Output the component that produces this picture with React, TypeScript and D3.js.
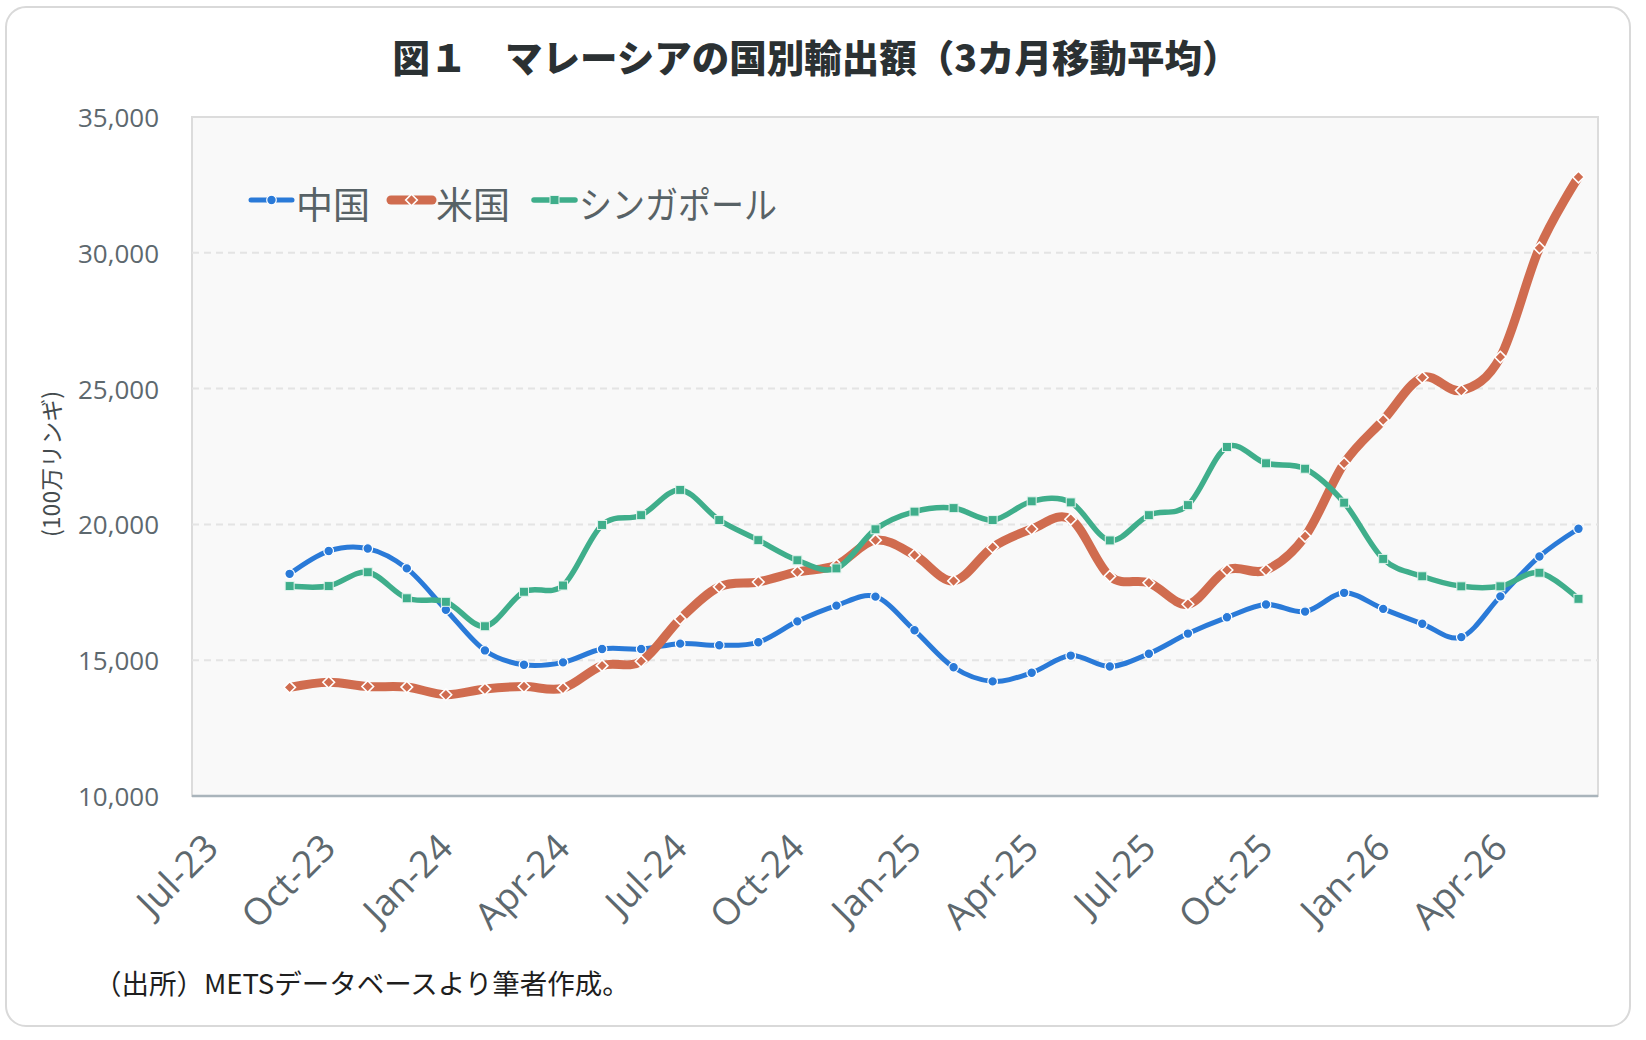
import React from "react";
import * as d3 from "d3";

const axisMonths = [
  "Jul-23", "Aug-23", "Sep-23", "Oct-23", "Nov-23", "Dec-23",
  "Jan-24", "Feb-24", "Mar-24", "Apr-24", "May-24", "Jun-24",
  "Jul-24", "Aug-24", "Sep-24", "Oct-24", "Nov-24", "Dec-24",
  "Jan-25", "Feb-25", "Mar-25", "Apr-25", "May-25", "Jun-25",
  "Jul-25", "Aug-25", "Sep-25", "Oct-25", "Nov-25", "Dec-25",
  "Jan-26", "Feb-26", "Mar-26", "Apr-26", "May-26", "Jun-26",
];

const dataMonths = [
  "Sep-23", "Oct-23", "Nov-23", "Dec-23",
  "Jan-24", "Feb-24", "Mar-24", "Apr-24", "May-24", "Jun-24",
  "Jul-24", "Aug-24", "Sep-24", "Oct-24", "Nov-24", "Dec-24",
  "Jan-25", "Feb-25", "Mar-25", "Apr-25", "May-25", "Jun-25",
  "Jul-25", "Aug-25", "Sep-25", "Oct-25", "Nov-25", "Dec-25",
  "Jan-26", "Feb-26", "Mar-26", "Apr-26", "May-26", "Jun-26",
];

const tickLabels = [
  "Jul-23", "Oct-23", "Jan-24", "Apr-24", "Jul-24", "Oct-24",
  "Jan-25", "Apr-25", "Jul-25", "Oct-25", "Jan-26", "Apr-26",
];

const china = [
  18180, 19020, 19110, 18380,
  16860, 15360, 14830, 14920, 15410, 15410, 15610, 15550, 15660, 16430, 17010, 17340,
  16100, 14740, 14220, 14540, 15170, 14770, 15240, 15980, 16580, 17050, 16790, 17480,
  16890, 16340, 15850, 17350, 18820, 19840,
];

const usa = [
  14000, 14190, 14030, 14010,
  13730, 13940, 14030, 13970, 14800, 14960, 16520, 17700, 17880, 18250, 18500, 19420,
  18870, 17920, 19160, 19830, 20190, 18090, 17850, 17060, 18320, 18320, 19560, 22250,
  23840, 25410, 24930, 26160, 30180, 32790,
];

const singapore = [
  17730, 17730, 18240, 17280,
  17150, 16250, 17520, 17750, 19980, 20340, 21270, 20160, 19420, 18680, 18380, 19820,
  20470, 20600, 20160, 20850, 20810, 19410, 20340, 20710, 22850, 22250, 22050, 20800,
  18730, 18090, 17720, 17720, 18220, 17260,
];

const yTicks = [10000, 15000, 20000, 25000, 30000, 35000];

const titleText = "図１　マレーシアの国別輸出額（3カ月移動平均）";
const yTitle = "(100万リンギ)";
const sourceText = "（出所）METSデータベースより筆者作成。";

type Series = {
  name: string;
  values: number[];
  color: string;
  width: number;
  marker: "circle" | "diamond" | "square";
};

const series: Series[] = [
  { name: "中国", values: china, color: "#2a7ad8", width: 5, marker: "circle" },
  { name: "米国", values: usa, color: "#d06c4f", width: 9, marker: "diamond" },
  { name: "シンガポール", values: singapore, color: "#3fae8b", width: 5.5, marker: "square" },
];

const legendStarts = [249, 389, 532];
const legendTextLengths = [null, null, 198];

const W = 1646;
const H = 1040;
const plot = { left: 192, right: 1598, top: 117, bottom: 796 };

const x = d3
  .scalePoint<string>()
  .domain(axisMonths)
  .range([plot.left, plot.right])
  .padding(0.5);

const y = d3.scaleLinear().domain([10000, 35000]).range([plot.bottom, plot.top]);

const line = d3
  .line<number>()
  .x((_, i) => x(dataMonths[i]) as number)
  .y((d) => y(d))
  .curve(d3.curveCardinal.tension(0));

function Marker({ kind, cx, cy, color }: { kind: string; cx: number; cy: number; color: string }) {
  if (kind === "circle") {
    return <circle cx={cx} cy={cy} r={4.8} fill={color} stroke="#ffffff" strokeWidth={1.2} />;
  }
  if (kind === "diamond") {
    const s = 5.8;
    return (
      <path
        d={`M${cx},${cy - s}L${cx + s},${cy}L${cx},${cy + s}L${cx - s},${cy}Z`}
        fill={color}
        stroke="#ffffff"
        strokeWidth={1.6}
      />
    );
  }
  const s = 9;
  return (
    <rect x={cx - s / 2} y={cy - s / 2} width={s} height={s} fill={color} stroke="#e4f4ee" strokeWidth={1} />
  );
}

export default function App() {
  const fmt = d3.format(",");
  const legendFont = 37;

  return (
    <svg
      width={W}
      height={H}
      style={{ position: "absolute", left: 0, top: 0, background: "#ffffff" }}
      xmlns="http://www.w3.org/2000/svg"
    >
      <rect x={6} y={7} width={1624} height={1019} rx={20} ry={20} fill="#ffffff" stroke="#d9d9d9" strokeWidth={2} />

      <text
        x={816}
        y={72}
        textAnchor="middle"
        fontFamily="'Noto Sans CJK JP', 'Noto Sans', sans-serif"
        fontWeight={900}
        fontSize={37.5}
        fill="#2b3133"
      >
        {titleText}
      </text>

      <rect
        x={plot.left}
        y={plot.top}
        width={plot.right - plot.left}
        height={plot.bottom - plot.top}
        fill="#f9f9f9"
        stroke="#dcdcdc"
        strokeWidth={2}
      />

      {yTicks
        .filter((t) => t > 10000 && t < 35000)
        .map((t) => (
          <line
            key={t}
            x1={plot.left}
            x2={plot.right}
            y1={y(t)}
            y2={y(t)}
            stroke="#e4e4e4"
            strokeWidth={2}
            strokeDasharray="7,5"
          />
        ))}

      <line x1={plot.left} x2={plot.right} y1={plot.bottom} y2={plot.bottom} stroke="#a9b4bb" strokeWidth={2.5} />

      {yTicks.map((t) => (
        <text
          key={t}
          x={159}
          y={y(t)}
          textAnchor="end"
          dominantBaseline="central"
          fontFamily="'Open Sans', sans-serif"
          fontSize={26}
          fill="#5d686e"
        >
          {fmt(t)}
        </text>
      ))}

      <text
        transform={`translate(50,464) rotate(-90)`}
        textAnchor="middle"
        dominantBaseline="central"
        fontFamily="'Noto Sans CJK JP', sans-serif"
        fontSize={23}
        fill="#444b4e"
      >
        {yTitle}
      </text>

      {tickLabels.map((lab) => {
        const px = x(lab) as number;
        return (
          <text
            key={lab}
            transform={`translate(${px + 9},850) rotate(-45)`}
            textAnchor="end"
            fontFamily="'Open Sans', sans-serif"
            fontSize={37}
            fill="#5d686e"
          >
            {lab}
          </text>
        );
      })}

      {series.map((s) => (
        <g key={s.name}>
          <path
            d={line(s.values) || ""}
            fill="none"
            stroke={s.color}
            strokeWidth={s.width}
            strokeLinejoin="round"
            strokeLinecap="round"
          />
          {s.values.map((v, i) => (
            <Marker key={i} kind={s.marker} cx={x(dataMonths[i]) as number} cy={y(v)} color={s.color} />
          ))}
        </g>
      ))}

      {series.map((s, k) => {
        const start = legendStarts[k];
        const tl = legendTextLengths[k];
        return (
          <g key={s.name}>
            <line
              x1={start + 2}
              x2={start + 43}
              y1={200}
              y2={200}
              stroke={s.color}
              strokeWidth={s.width}
              strokeLinecap="round"
            />
            <Marker kind={s.marker} cx={start + 22.5} cy={200} color={s.color} />
            <text
              x={start + 47}
              y={219}
              fontFamily="'Noto Sans CJK JP', sans-serif"
              fontSize={legendFont}
              fill="#586266"
              {...(tl ? { textLength: tl, lengthAdjust: "spacingAndGlyphs" } : {})}
            >
              {s.name}
            </text>
          </g>
        );
      })}

      <text
        x={94}
        y={994}
        fontFamily="'Noto Sans CJK JP', sans-serif"
        fontSize={27.5}
        fill="#1e1e1e"
      >
        {sourceText}
      </text>
    </svg>
  );
}
